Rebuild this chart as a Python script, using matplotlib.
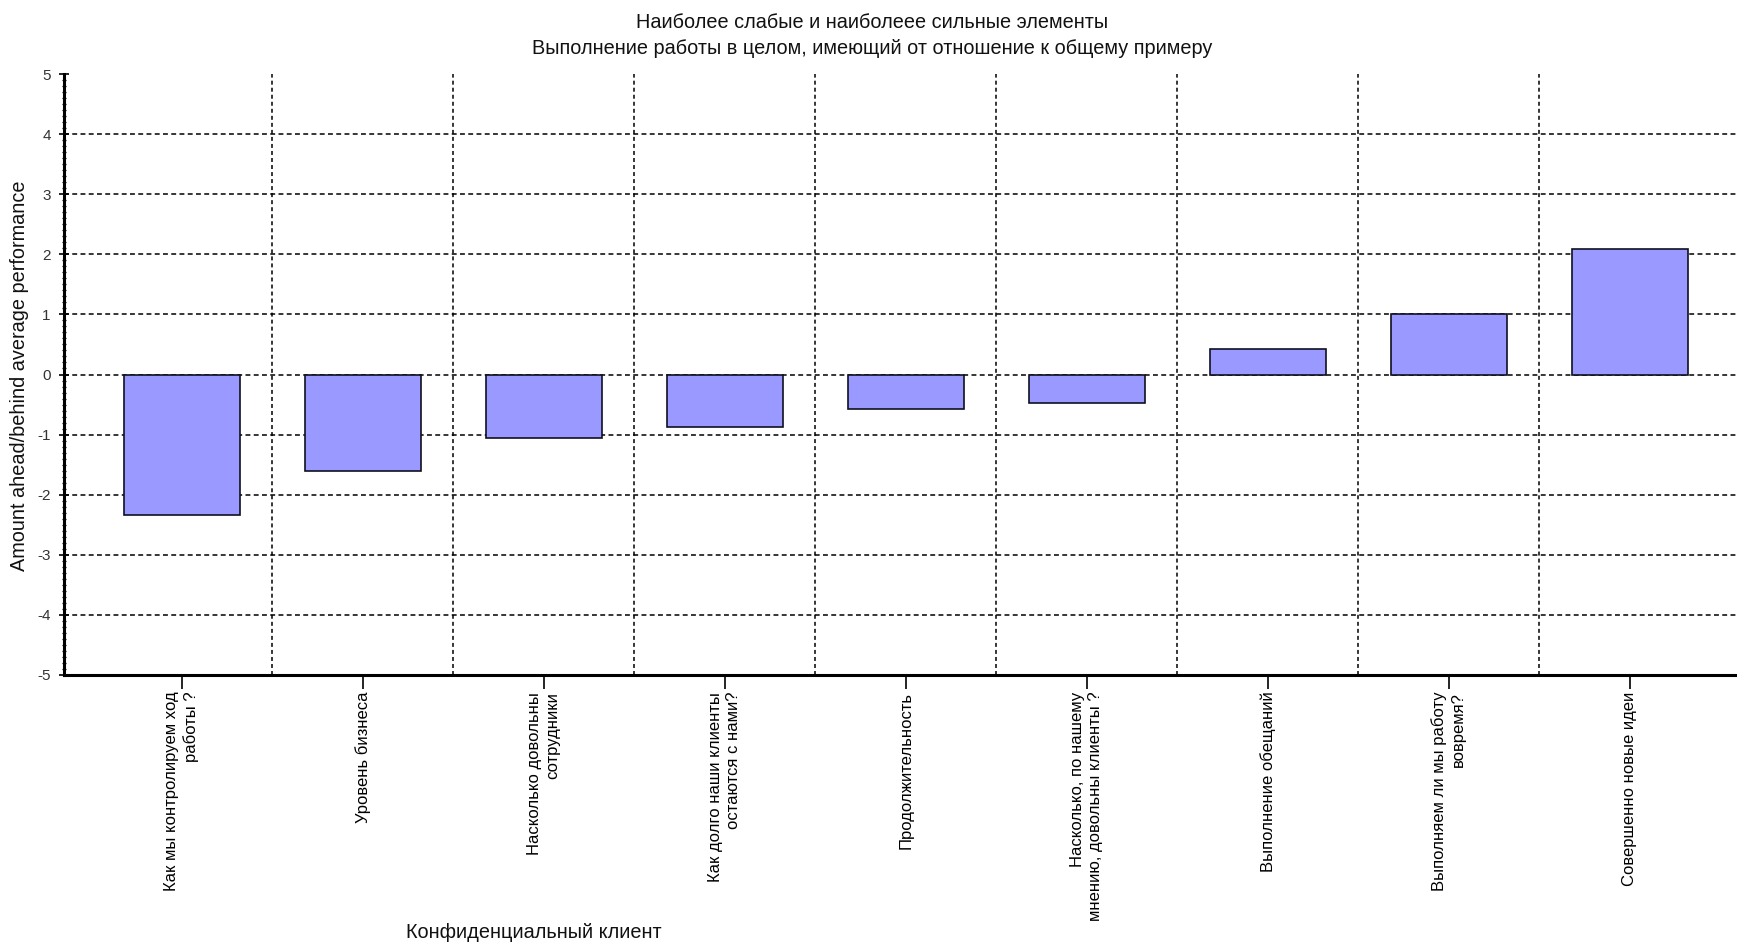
import matplotlib
matplotlib.use("Agg")
import matplotlib.pyplot as plt
from matplotlib import font_manager
from matplotlib.ticker import MultipleLocator

# Performance gap per element, relative to the overall average
categories = [
    "Как мы контролируем ход\nработы ?",
    "Уровень бизнеса",
    "Насколько довольны\nсотрудники",
    "Как долго наши клиенты\nостаются с нами?",
    "Продолжительность",
    "Насколько, по нашему\nмнению, довольны клиенты ?",
    "Выполнение обещаний",
    "Выполняем ли мы работу\nвовремя?",
    "Совершенно новые идеи",
]
values = [-2.33, -1.61, -1.06, -0.88, -0.58, -0.48, 0.43, 1.00, 2.08]
y_ticks = [-5, -4, -3, -2, -1, 0, 1, 2, 3, 4, 5]

title_lines = [
    "Наиболее слабые и наиболеее сильные элементы",
    "Выполнение работы в целом, имеющий от отношение к общему примеру",
]
y_label = "Amount ahead/behind average performance"
footer = "Конфиденциальный клиент"

installed = {f.name for f in font_manager.fontManager.ttflist}
regular = "Liberation Sans" if "Liberation Sans" in installed else "DejaVu Sans"
narrow = "Liberation Sans Narrow" if "Liberation Sans Narrow" in installed else regular

W, H = 1737, 942
fig = plt.figure(figsize=(W / 100, H / 100), dpi=100)
fig.patch.set_facecolor("white")

left, right, top, bottom = 64, W, 74, 675
ax = fig.add_axes([left / W, 1 - bottom / H, (right - left) / W, (bottom - top) / H])

x = list(range(len(categories)))
ax.bar(x, values, width=0.64, color="#9999FF", edgecolor="#101020",
       linewidth=1.2, zorder=2)

ax.set_xlim(-0.65, 8.593)
ax.set_ylim(-5, 5)

# dashed grid: horizontal at whole units, vertical between categories
for yv in y_ticks[1:-1]:
    ax.axhline(yv, color="black", lw=1.1, ls=(0, (3.2, 2.2)), zorder=1)
for xv in [i + 0.5 for i in range(len(categories) - 1)]:
    ax.axvline(xv, color="black", lw=1.1, ls=(0, (2.6, 2.0)), zorder=1)

for side in ("top", "right"):
    ax.spines[side].set_visible(False)
ax.spines["left"].set_linewidth(2.2)
ax.spines["bottom"].set_linewidth(2.2)

ax.set_yticks(y_ticks)
ax.set_yticklabels([str(v) for v in y_ticks], family=regular)
ax.yaxis.set_minor_locator(MultipleLocator(0.1))
ax.tick_params(axis="y", which="major", direction="inout", length=7, width=1.2,
               labelsize=11, labelcolor="#333333", pad=6)
ax.tick_params(axis="y", which="minor", direction="inout", length=3, width=0.9)

ax.set_xticks(x)
ax.set_xticklabels(categories, rotation=90, ha="center", va="top",
                   multialignment="right", fontsize=12, family=regular,
                   linespacing=1.3)
ax.tick_params(axis="x", direction="out", length=10, width=1.2, pad=2)

fig.text(20 / W, 1 - 376 / H, y_label, rotation=90, ha="center", va="center",
         fontsize=14.3, family=regular, color="#111111")

fig.text(872 / W, 1 - 23 / H, title_lines[0], ha="center", va="center",
         fontsize=14.3, family=narrow, color="#111111")
fig.text(872 / W, 1 - 49 / H, title_lines[1], ha="center", va="center",
         fontsize=14.3, family=narrow, color="#111111")

fig.text(534 / W, 1 - 932 / H, footer, ha="center", va="center",
         fontsize=14.3, family=narrow, color="#111111")

fig.savefig("out.png", dpi=100, facecolor="white")
